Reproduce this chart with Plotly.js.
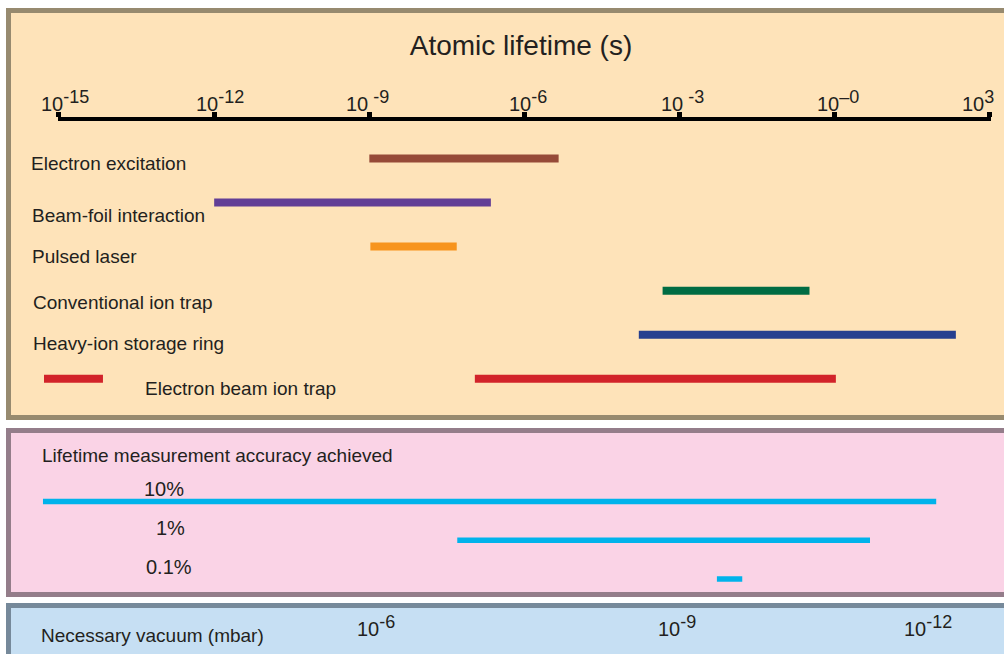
<!DOCTYPE html>
<html>
<head>
<meta charset="utf-8">
<script src="https://cdn.plot.ly/plotly-3.0.1.min.js"></script>
<style>
html,body{margin:0;padding:0;background:#fff;}
#chart{width:1004px;height:654px;}
</style>
</head>
<body>
<div id="chart"></div>
<script>
// ---------- DATA ----------
const methods = ["Electron excitation", "Beam-foil interaction", "Pulsed laser",
                 "Conventional ion trap", "Heavy-ion storage ring", "Electron beam ion trap"];
// lifetime range covered by each method (s)
const methodStart = [1e-9, 1e-12, Math.pow(10, -8.98), Math.pow(10, -3.33), Math.pow(10, -3.79), Math.pow(10, -6.96)];
const methodEnd   = [Math.pow(10, -5.34), Math.pow(10, -6.65), Math.pow(10, -7.31), Math.pow(10, -0.49), Math.pow(10, 2.34), Math.pow(10, 0.02)];
// small key bar drawn next to the EBIT label
const ebitKey = [Math.pow(10, -15.29), Math.pow(10, -14.15)];

const accuracyLevels = ["10%", "1%", "0.1%"];
const accuracyStart = [Math.pow(10, -15.31), Math.pow(10, -7.30), Math.pow(10, -2.28)];
const accuracyEnd   = [Math.pow(10, 1.96), Math.pow(10, 0.68), Math.pow(10, -1.79)];

const lifetimeTicks = [1e-15, 1e-12, 1e-9, 1e-6, 1e-3, 1, 1e3];
const lifetimeTickExp = ["-15", "-12", " -9", "-6", " -3", "\u20130", "3"];

const vacuumExp = ["-6", "-9", "-12"];
const vacuumAtLifetime = [Math.pow(10, -8.88), Math.pow(10, -3.05), Math.pow(10, 1.80)];

// ---------- STYLE / LAYOUT ----------
const W = 1004, H = 654;
const px = x => x / W;
const py = y => 1 - y / H;
const TXT = "#231f20";
const FONT = "Liberation Sans, Arial, Helvetica, sans-serif";
const pow10 = e => "10<sup><span style=\"font-size:18px\">" + e + "</span></sup>";

const methodColors = ["#964a38", "#623e96", "#f7941d", "#006c43", "#263f8f", "#d2232a"];
const accuracyColor = "#00b3eb";
const methodLabelX = [30, 30.7, 31, 31.7, 31.7, 144.3];
const methodLabelShift = [-4.8, -13.2, -9.6, -12.3, -9, -9.4];
const pctLabelX = [163.5, 170.5, 168.5];
const tickLabelShift = [6, 6, -2, 3, 3, 3, -12];

// scale geometry: ticks 1e-15 .. 1e3 span 59px .. 990px
const scaleL = 59, scaleR = 990;
const decadePx = (scaleR - scaleL) / 18;
const fullRange = [-15 - scaleL / decadePx, 3 + (W - scaleR) / decadePx];
const eps = 0.012;

const traces = [];
methods.forEach((m, i) => {
  traces.push({
    x: [methodStart[i], methodEnd[i]], y: [m, m],
    xaxis: "x", yaxis: "y", mode: "lines",
    line: {color: methodColors[i], width: 8},
    hoverinfo: "skip", showlegend: false
  });
});
traces.push({
  x: ebitKey, y: [methods[5], methods[5]],
  xaxis: "x", yaxis: "y", mode: "lines",
  line: {color: methodColors[5], width: 8},
  hoverinfo: "skip", showlegend: false
});
accuracyLevels.forEach((a, j) => {
  traces.push({
    x: [accuracyStart[j], accuracyEnd[j]], y: [a, a],
    xaxis: "x", yaxis: "y2", mode: "lines",
    line: {color: accuracyColor, width: 5.5},
    hoverinfo: "skip", showlegend: false
  });
});
// invisible trace that carries the lifetime scale axis
traces.push({
  x: [lifetimeTicks[0], lifetimeTicks[lifetimeTicks.length - 1]], y: [methods[0], methods[0]],
  xaxis: "x2", yaxis: "y", mode: "markers", marker: {opacity: 0},
  hoverinfo: "skip", showlegend: false
});

// category lanes
const rowTop = 158.5, rowStep = 44.06;
const yDom = [py(rowTop + 5.5 * rowStep), py(rowTop - 0.5 * rowStep)];
const accTop = 501.4, accStep = 38.85;
const y2Dom = [py(accTop + 2.5 * accStep), py(accTop - 0.5 * accStep)];

const annotations = [];
lifetimeTicks.forEach((t, k) => {
  annotations.push({
    text: pow10(lifetimeTickExp[k]), xref: "x", x: Math.log10(t), xanchor: "center",
    xshift: tickLabelShift[k],
    yref: "paper", y: py(100.5), yanchor: "middle", showarrow: false, borderpad: 0,
    font: {family: FONT, size: 20, color: TXT}
  });
});
methods.forEach((m, i) => {
  annotations.push({
    text: m, xref: "paper", x: px(methodLabelX[i]), xanchor: "left",
    yref: "y", y: m, yanchor: "middle", yshift: methodLabelShift[i],
    showarrow: false, borderpad: 0, font: {family: FONT, size: 19, color: TXT}
  });
});
accuracyLevels.forEach((a, j) => {
  annotations.push({
    text: a, xref: "paper", x: px(pctLabelX[j]), xanchor: "center",
    yref: "y2", y: a, yanchor: "middle", yshift: 12.5,
    showarrow: false, borderpad: 0, font: {family: FONT, size: 20, color: TXT}
  });
});
annotations.push({
  text: "Lifetime measurement accuracy achieved", xref: "paper", x: px(41), xanchor: "left",
  yref: "paper", y: py(455), yanchor: "middle", showarrow: false, borderpad: 0,
  font: {family: FONT, size: 19, color: TXT}
});
annotations.push({
  text: "Necessary vacuum (mbar)", xref: "paper", x: px(40), xanchor: "left",
  yref: "paper", y: py(635), yanchor: "middle", showarrow: false, borderpad: 0,
  font: {family: FONT, size: 19, color: TXT}
});
vacuumExp.forEach((v, k) => {
  annotations.push({
    text: pow10(v), xref: "x", x: Math.log10(vacuumAtLifetime[k]), xanchor: "center",
    yref: "paper", y: py(626), yanchor: "middle", showarrow: false, borderpad: 0,
    font: {family: FONT, size: 20, color: TXT}
  });
});

const panel = (y0, y1, fill, edge) => ({
  type: "rect", xref: "paper", yref: "paper", layer: "below",
  x0: px(8.5), x1: px(W + 10), y0: py(y0), y1: py(y1),
  fillcolor: fill, line: {color: edge, width: 5}
});

const layout = {
  width: W, height: H, autosize: false,
  margin: {l: 0, r: 0, t: 0, b: 0, pad: 0},
  paper_bgcolor: "#ffffff", plot_bgcolor: "rgba(0,0,0,0)",
  font: {family: FONT, color: TXT},
  title: {
    text: "Atomic lifetime (s)", font: {family: FONT, size: 28, color: TXT},
    xref: "paper", yref: "paper", x: px(521), xanchor: "center", y: py(45.5), yanchor: "middle"
  },
  xaxis: {type: "log", range: fullRange, autorange: false, domain: [0, 1], anchor: "y",
          visible: false, showgrid: false, zeroline: false, fixedrange: true},
  xaxis2: {type: "log", range: [-15 - eps, 3 + eps], autorange: false,
           domain: [px(scaleL - eps * decadePx), px(scaleR + eps * decadePx)],
           anchor: "free", position: py(118.7), side: "top",
           showline: true, linecolor: "#000", linewidth: 4.5,
           ticks: "outside", ticklen: 5, tickwidth: 5, tickcolor: "#000",
           tickmode: "array", tickvals: lifetimeTicks, showticklabels: false,
           showgrid: false, zeroline: false, fixedrange: true},
  yaxis: {type: "category", categoryorder: "array", categoryarray: methods,
          range: [5.5, -0.5], autorange: false, domain: yDom, anchor: "x",
          visible: false, showgrid: false, zeroline: false, fixedrange: true},
  yaxis2: {type: "category", categoryorder: "array", categoryarray: accuracyLevels,
           range: [2.5, -0.5], autorange: false, domain: y2Dom, anchor: "x",
           visible: false, showgrid: false, zeroline: false, fixedrange: true},
  shapes: [
    panel(10.5, 417.5, "#fee3b9", "#978a6f"),
    panel(430.5, 594.5, "#fad3e6", "#947d8a"),
    panel(605.5, H + 10, "#c6dff3", "#76899a")
  ],
  annotations: annotations,
  showlegend: false
};

Plotly.newPlot("chart", traces, layout, {displayModeBar: false, staticPlot: true});
</script>
</body>
</html>
